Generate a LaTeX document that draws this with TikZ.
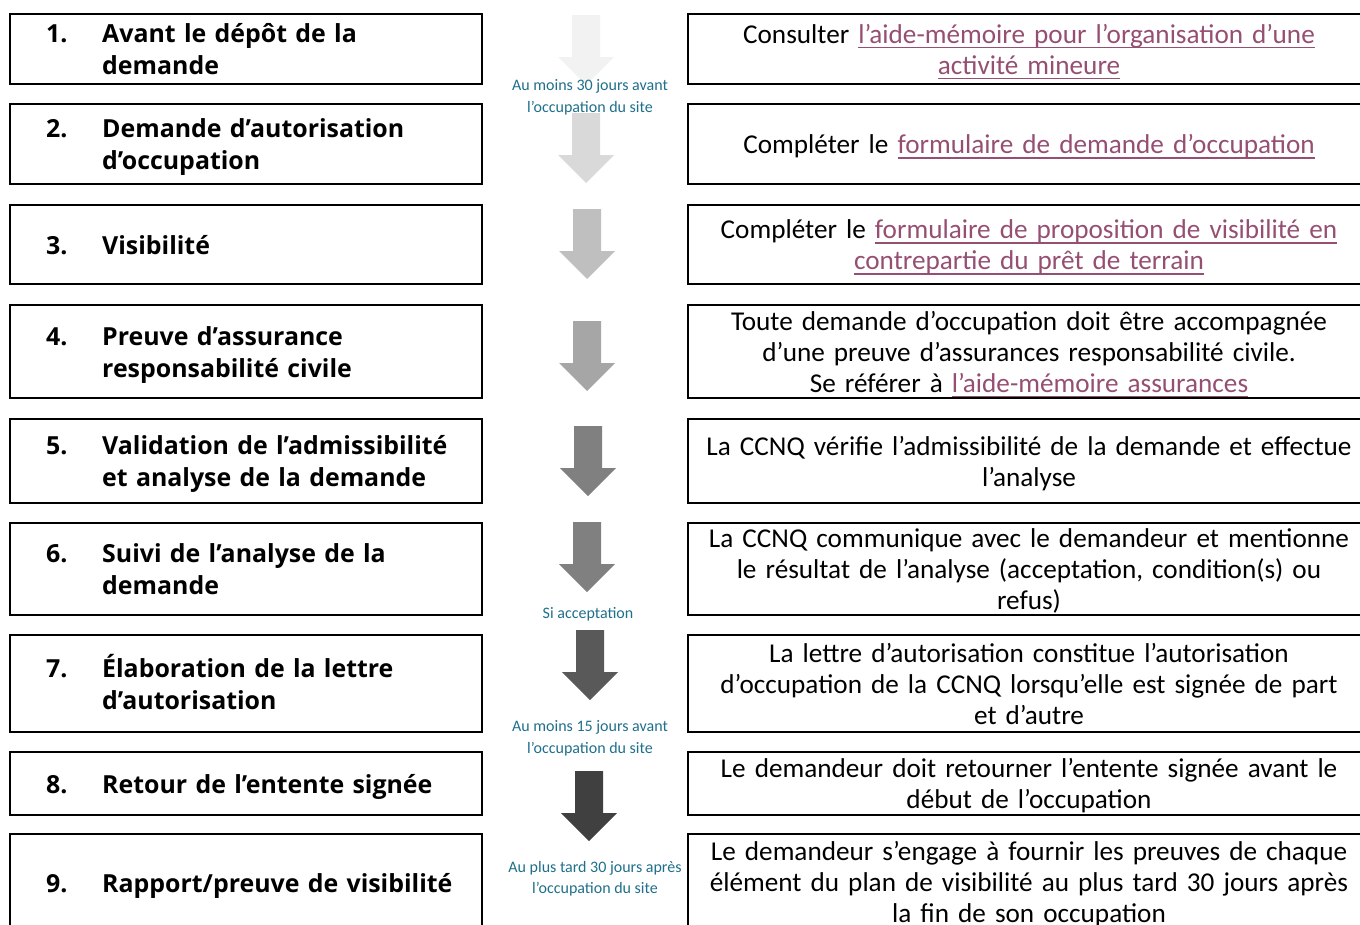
\documentclass[tikz,border=0pt]{standalone}
\usepackage{fontspec}
\setmainfont{Carlito}
\newfontfamily\stepfont{Open Sans}
\usetikzlibrary{positioning}
\definecolor{linkRose}{HTML}{954F72}
\definecolor{noteTeal}{HTML}{1F6F8B}
\definecolor{frameInk}{HTML}{000000}
\definecolor{greyOne}{HTML}{F2F2F2}
\definecolor{greyTwo}{HTML}{D9D9D9}
\definecolor{greyThree}{HTML}{BFBFBF}
\definecolor{greyFour}{HTML}{A6A6A6}
\definecolor{greyFive}{HTML}{7F7F7F}
\definecolor{greySix}{HTML}{808080}
\definecolor{greySeven}{HTML}{595959}
\definecolor{greyEight}{HTML}{404040}
\newsavebox{\lienBox}
\newcommand{\lien}[1]{\leavevmode{\color{linkRose}\sbox{\lienBox}{#1}%
  \rlap{\rule[-5pt]{\wd\lienBox}{1.6pt}}\usebox{\lienBox}}}

\begin{document}
\begin{tikzpicture}[
    x=1pt, y=-1pt,
    stepbox/.style={
        rectangle,
        draw=frameInk,
        line width=2pt,
        minimum width=472pt,
        inner sep=0pt
    },
    infobox/.style={
        rectangle,
        draw=frameInk,
        line width=2pt,
        minimum width=682pt,
        inner sep=0pt
    },
    infotext/.style={
        text width=670pt,
        align=center,
        inner sep=0pt,
        yshift=-3.5pt,
        font=\fontsize{27.2}{31}\selectfont,
        execute at begin node=\strut,
        execute at end node=\strut
    },
    stepnum/.style={
        anchor=base west,
        inner sep=0pt,
        font=\stepfont\bfseries\fontsize{24.9}{32}\selectfont
    },
    steptitle/.style={
        anchor=west,
        align=left,
        text width=370pt,
        inner sep=0pt,
        font=\stepfont\bfseries\fontsize{24.9}{32}\selectfont,
        execute at begin node={\rule{0pt}{29.4pt}},
        execute at end node=\strut
    },
    note/.style={
        align=center,
        inner sep=0pt,
        text=noteTeal,
        font=\fontsize{16}{21.5}\selectfont
    },
    blockarrow/.pic={
        \fill[#1] (-14,0) -- (14,0) -- (14,42) -- (28,42) -- (0,70)
            -- (-28,42) -- (-14,42) -- cycle;
    }
]
\clip (0,0) rectangle (1360,924);

% Steps on the left
\node[stepbox, minimum height=70pt] (s1) at (246,49) {};
\node[stepbox, minimum height=80pt] (s2) at (246,144) {};
\node[stepbox, minimum height=79pt] (s3) at (246,244.5) {};
\node[stepbox, minimum height=93pt] (s4) at (246,351.5) {};
\node[stepbox, minimum height=84pt] (s5) at (246,461) {};
\node[stepbox, minimum height=92pt] (s6) at (246,569) {};
\node[stepbox, minimum height=97pt] (s7) at (246,683.5) {};
\node[stepbox, minimum height=63pt] (s8) at (246,783.5) {};
\node[stepbox, minimum height=98pt] (s9) at (246,883) {};

\node[steptitle] (t1) at ([xshift=93pt]s1.west) {Avant le dépôt de la\\demande};
\node[steptitle] (t2) at ([xshift=93pt]s2.west) {Demande d’autorisation\\d’occupation};
\node[steptitle] (t3) at ([xshift=93pt]s3.west) {Visibilité};
\node[steptitle] (t4) at ([xshift=93pt]s4.west) {Preuve d’assurance\\responsabilité civile};
\node[steptitle] (t5) at ([xshift=93pt]s5.west) {Validation de l’admissibilité\\et analyse de la demande};
\node[steptitle] (t6) at ([xshift=93pt]s6.west) {Suivi de l’analyse de la\\demande};
\node[steptitle] (t7) at ([xshift=93pt]s7.west) {Élaboration de la lettre\\d’autorisation};
\node[steptitle] (t8) at ([xshift=93pt]s8.west) {Retour de l’entente signée};
\node[steptitle] (t9) at ([xshift=93pt]s9.west) {Rapport/preuve de visibilité};

% numbers sit on the first line of each title
\node[stepnum] (n1) at ([xshift=-56pt]t1.base west) {1.};
\node[stepnum] (n2) at ([xshift=-56pt]t2.base west) {2.};
\node[stepnum] (n3) at ([xshift=-56pt]t3.base west) {3.};
\node[stepnum] (n4) at ([xshift=-56pt]t4.base west) {4.};
\node[stepnum] (n5) at ([xshift=-56pt]t5.base west) {5.};
\node[stepnum] (n6) at ([xshift=-56pt]t6.base west) {6.};
\node[stepnum] (n7) at ([xshift=-56pt]t7.base west) {7.};
\node[stepnum] (n8) at ([xshift=-56pt]t8.base west) {8.};
\node[stepnum] (n9) at ([xshift=-56pt]t9.base west) {9.};

% Details on the right
\node[infobox, minimum height=70pt] (d1) at (1029,49) {};
\node[infobox, minimum height=80pt] (d2) at (1029,144) {};
\node[infobox, minimum height=79pt] (d3) at (1029,244.5) {};
\node[infobox, minimum height=93pt] (d4) at (1029,351.5) {};
\node[infobox, minimum height=84pt] (d5) at (1029,461) {};
\node[infobox, minimum height=92pt] (d6) at (1029,569) {};
\node[infobox, minimum height=97pt] (d7) at (1029,683.5) {};
\node[infobox, minimum height=63pt] (d8) at (1029,783.5) {};
\node[infobox, minimum height=98pt] (d9) at (1029,883) {};

\node[infotext] (e1) at (d1.center) {Consulter \lien{l’aide-mémoire pour l’organisation d’une}\\ \lien{activité mineure}};
\node[infotext] (e2) at (d2.center) {Compléter le \lien{formulaire de demande d’occupation}};
\node[infotext] (e3) at (d3.center) {Compléter le \lien{formulaire de proposition de visibilité en}\\ \lien{contrepartie du prêt de terrain}};
\node[infotext] (e4) at (d4.center) {Toute demande d’occupation doit être accompagnée\\ d’une preuve d’assurances responsabilité civile.\\ Se référer à \lien{l’aide-mémoire assurances}};
\node[infotext] (e5) at (d5.center) {La CCNQ vérifie l’admissibilité de la demande et effectue\\ l’analyse};
\node[infotext] (e6) at (d6.center) {La CCNQ communique avec le demandeur et mentionne\\ le résultat de l’analyse (acceptation, condition(s) ou\\ refus)};
\node[infotext] (e7) at (d7.center) {La lettre d’autorisation constitue l’autorisation\\ d’occupation de la CCNQ lorsqu’elle est signée de part\\ et d’autre};
\node[infotext] (e8) at (d8.center) {Le demandeur doit retourner l’entente signée avant le\\ début de l’occupation};
\node[infotext] (e9) at ([yshift=1pt]d9.center) {Le demandeur s’engage à fournir les preuves de chaque\\ élément du plan de visibilité au plus tard 30 jours après\\ la fin de son occupation};

% Arrows in the middle, lighter to darker
\pic (a1) at (586,15) {blockarrow=greyOne};
\pic (a2) at (586,113) {blockarrow=greyTwo};
\pic (a3) at (587,209) {blockarrow=greyThree};
\pic (a4) at (587,321) {blockarrow=greyFour};
\pic (a5) at (588,426) {blockarrow=greySix};
\pic (a6) at (587,522) {blockarrow=greySix};
\pic (a7) at (590,630) {blockarrow=greySeven};
\pic (a8) at (589,771) {blockarrow=greyEight};

% Delays
\node[note] (l1) at (590,97.5) {Au moins 30 jours avant\\l’occupation du site};
\node[note] (l2) at (588,614) {Si acceptation};
\node[note] (l3) at (590,738.5) {Au moins 15 jours avant\\l’occupation du site};
\node[note] (l4) at (595,878.5) {Au plus tard 30 jours après\\l’occupation du site};

\end{tikzpicture}
\end{document}
